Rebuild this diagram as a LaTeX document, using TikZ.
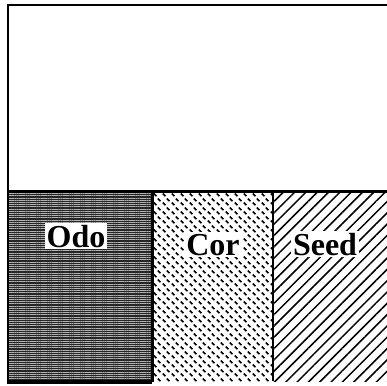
\documentclass[tikz,border=0pt]{standalone}
\usepackage{fontspec}
\setmainfont{Liberation Serif}
\usepackage{tikz}
\usetikzlibrary{patterns,patterns.meta}

\pgfdeclarepatternformonly{cordashes}{\pgfpointorigin}{\pgfpoint{9pt}{9pt}}{\pgfpoint{9pt}{9pt}}{
  \pgfsetlinewidth{1.8pt}
  \pgfpathmoveto{\pgfpoint{0.9pt}{3.7pt}}\pgfpathlineto{\pgfpoint{3.7pt}{0.9pt}}
  \pgfpathmoveto{\pgfpoint{5.4pt}{8.2pt}}\pgfpathlineto{\pgfpoint{8.2pt}{5.4pt}}
  \pgfusepath{stroke}}

\begin{document}
\begin{tikzpicture}[x=1pt,y=-1pt,
  bord/.style={line width=3pt,black},
  etiq/.style={fill=white,anchor=base,inner sep=2pt,font=\fontsize{32}{36}\selectfont\bfseries}]
  \useasboundingbox (0,0) rectangle (387,385);
  % zones du bas
  \fill[black!85] (8,191) rectangle (152,382);
  \fill[pattern={Lines[angle=0,distance=2.2pt,line width=0.6pt]},pattern color=black!30] (8,191) rectangle (152,382);
  \fill[pattern=cordashes] (152,191) rectangle (273,381);
  \fill[pattern={Lines[angle=45,distance=8pt,line width=1.5pt]}] (273,191) rectangle (387,381);
  % cadre
  \draw[line width=2.5pt] (8,383) -- (8,5) -- (387,5);
  \draw[bord] (7,191) -- (387,191);
  \draw[bord] (152,191) -- (152,382);
  \draw[line width=2.5pt] (273,191) -- (273,381);
  \draw[line width=4pt] (7,382) -- (152,382);
  % etiquettes
  \foreach \x/\y/\t/\n in {76/247/Odo/odo, 213/255/Cor/cor, 325/255/Seed/seed}
    \node[etiq] (\n) at (\x,\y) {\t};
\end{tikzpicture}
\end{document}
